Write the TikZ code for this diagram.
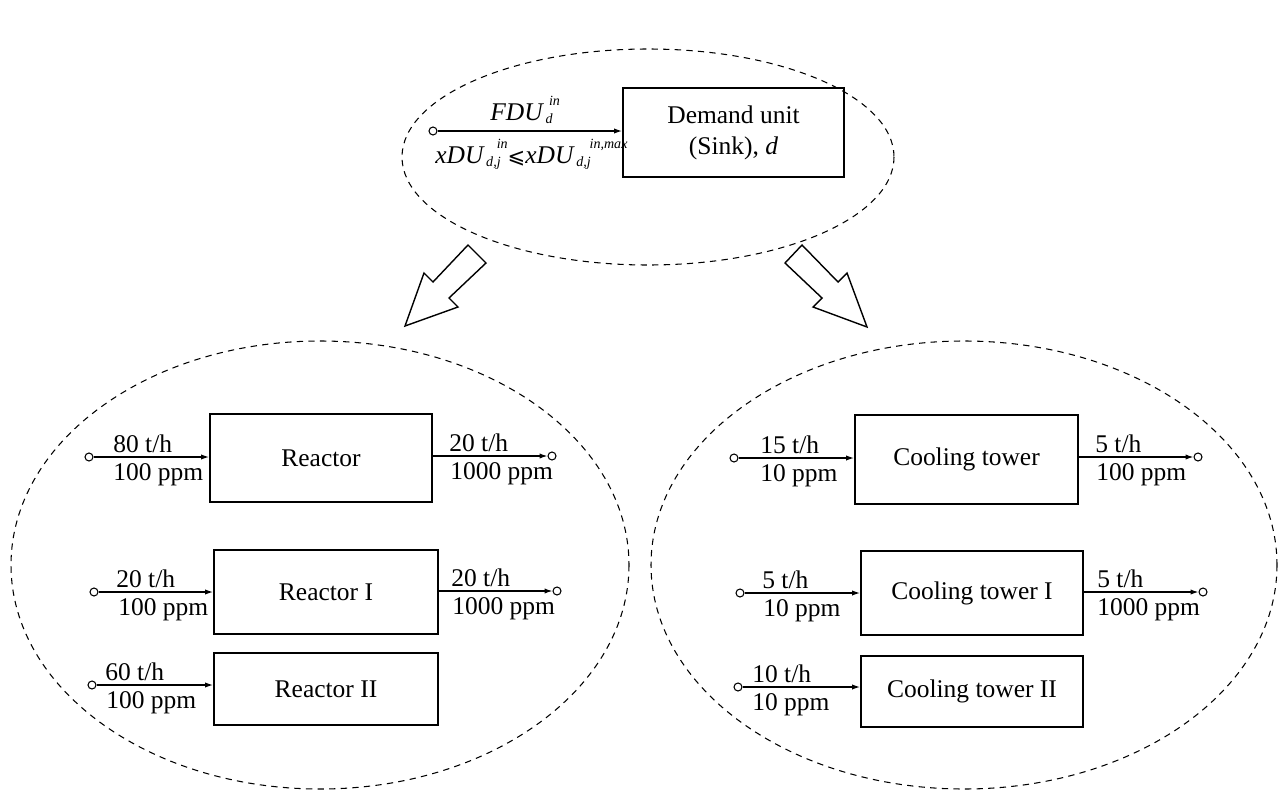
\documentclass[tikz,border=0pt]{standalone}
\usepackage{fontspec}
\setmainfont{Liberation Serif}
\newfontfamily\symfont{DejaVu Sans}
\usetikzlibrary{arrows.meta}

% stacked superscript/subscript pair in small italic;
% the optional argument shifts the superscript to the right
\newcommand\idx[3][0.9em]{{\fontsize{8}{8}\selectfont\itshape
  \setbox0=\hbox{\kern0.1em\raisebox{-0.6ex}{#3}}%
  \setbox2=\hbox{\kern#1\raisebox{2.2ex}{#2}}%
  \ifdim\wd0>\wd2 \rlap{\box2}\box0 \else\rlap{\box0}\box2\fi}}
% slanted less-or-equal sign
\newcommand\leqsl{{\symfont\fontsize{12}{12}\selectfont ⩽}}

\tikzset{
  unitbox/.style={draw, line width=1.1pt, align=center,
    font=\fontsize{14.5}{17.6}\selectfont, inner sep=0pt},
  port/.style={draw, circle, line width=0.6pt, minimum size=0.16cm, inner sep=0pt},
  flow/.style={line width=0.7pt, -{Latex[length=4.5pt,width=3pt]}},
  lbl/.style={font=\fontsize{14.5}{17}\selectfont, inner sep=0pt, anchor=base west},
  group/.style={draw, line width=0.6pt, dash pattern=on 3.6pt off 3pt},
  bigarrow/.style={draw, line width=0.8pt, line join=miter, fill=white}
}

\begin{document}
\begin{tikzpicture}[x=0.02cm, y=-0.02cm]
\useasboundingbox (0,0) rectangle (1281,791);

% grouping ellipses
\draw[group] (648,157) ellipse [x radius=246, y radius=108];
\draw[group] (320,565) ellipse [x radius=309, y radius=224];
\draw[group] (964,565) ellipse [x radius=313, y radius=224];

% hollow block arrows
\draw[bigarrow] (468,245) -- (433,282) -- (424,273) -- (405,326) -- (458,307) -- (449,298) -- (486,263) -- cycle;
\draw[bigarrow] (802,245) -- (838,282) -- (847,273) -- (867,327) -- (813,307) -- (822,298) -- (785,263) -- cycle;

% ---------- generic demand unit ----------
\node[unitbox, minimum width={221*0.02cm}, minimum height={89*0.02cm}] (dem) at (733.5,132.5)
  {Demand unit\\(Sink), \textit{d}};
\node[port] (demin) at (433,131) {};
\draw[flow] (demin) -- (demin -| dem.west);
\node[lbl] (fdu) at (490,120) {\textit{FDU}\idx[0.35em]{in}{d}};
\node[lbl] (xdu) at (435,163) {\textit{xDU}\idx[0.85em]{in}{d,j}\leqsl\textit{xDU}\idx[1.05em]{in,max}{d,j}};

% ---------- reactor example ----------
\node[unitbox, minimum width={222*0.02cm}, minimum height={88*0.02cm}] (r) at (321,458) {Reactor};
\node[port] (rin) at (89,457) {};
\node[port] (rout) at (552,456) {};
\draw[flow] (rin) -- (rin -| r.west);
\draw[flow] (r.east |- rout) -- (rout);
\node[lbl] at (113,452) {80 t/h};
\node[lbl] at (113,480) {100 ppm};
\node[lbl] at (449,451) {20 t/h};
\node[lbl] at (450,479) {1000 ppm};

\node[unitbox, minimum width={224*0.02cm}, minimum height={84*0.02cm}] (r1) at (326,592) {Reactor I};
\node[port] (r1in) at (94,592) {};
\node[port] (r1out) at (557,591) {};
\draw[flow] (r1in) -- (r1in -| r1.west);
\draw[flow] (r1.east |- r1out) -- (r1out);
\node[lbl] at (116,587) {20 t/h};
\node[lbl] at (118,615) {100 ppm};
\node[lbl] at (451,586) {20 t/h};
\node[lbl] at (452,614) {1000 ppm};

\node[unitbox, minimum width={224*0.02cm}, minimum height={72*0.02cm}] (r2) at (326,689) {Reactor II};
\node[port] (r2in) at (92,685) {};
\draw[flow] (r2in) -- (r2in -| r2.west);
\node[lbl] at (105,680) {60 t/h};
\node[lbl] at (106,708) {100 ppm};

% ---------- cooling tower example ----------
\node[unitbox, minimum width={223*0.02cm}, minimum height={89*0.02cm}] (ct) at (966.5,459.5) {Cooling tower};
\node[port] (ctin) at (734,458) {};
\node[port] (ctout) at (1198,457) {};
\draw[flow] (ctin) -- (ctin -| ct.west);
\draw[flow] (ct.east |- ctout) -- (ctout);
\node[lbl] at (760,453) {15 t/h};
\node[lbl] at (760,481) {10 ppm};
\node[lbl] at (1095,452) {5 t/h};
\node[lbl] at (1096,480) {100 ppm};

\node[unitbox, minimum width={222*0.02cm}, minimum height={84*0.02cm}] (ct1) at (972,593) {Cooling tower I};
\node[port] (ct1in) at (740,593) {};
\node[port] (ct1out) at (1203,592) {};
\draw[flow] (ct1in) -- (ct1in -| ct1.west);
\draw[flow] (ct1.east |- ct1out) -- (ct1out);
\node[lbl] at (762,588) {5 t/h};
\node[lbl] at (763,616) {10 ppm};
\node[lbl] at (1097,587) {5 t/h};
\node[lbl] at (1097,615) {1000 ppm};

\node[unitbox, minimum width={222*0.02cm}, minimum height={71*0.02cm}] (ct2) at (972,691.5) {Cooling tower II};
\node[port] (ct2in) at (738,687) {};
\draw[flow] (ct2in) -- (ct2in -| ct2.west);
\node[lbl] at (752,682) {10 t/h};
\node[lbl] at (752,710) {10 ppm};
\end{tikzpicture}
\end{document}
